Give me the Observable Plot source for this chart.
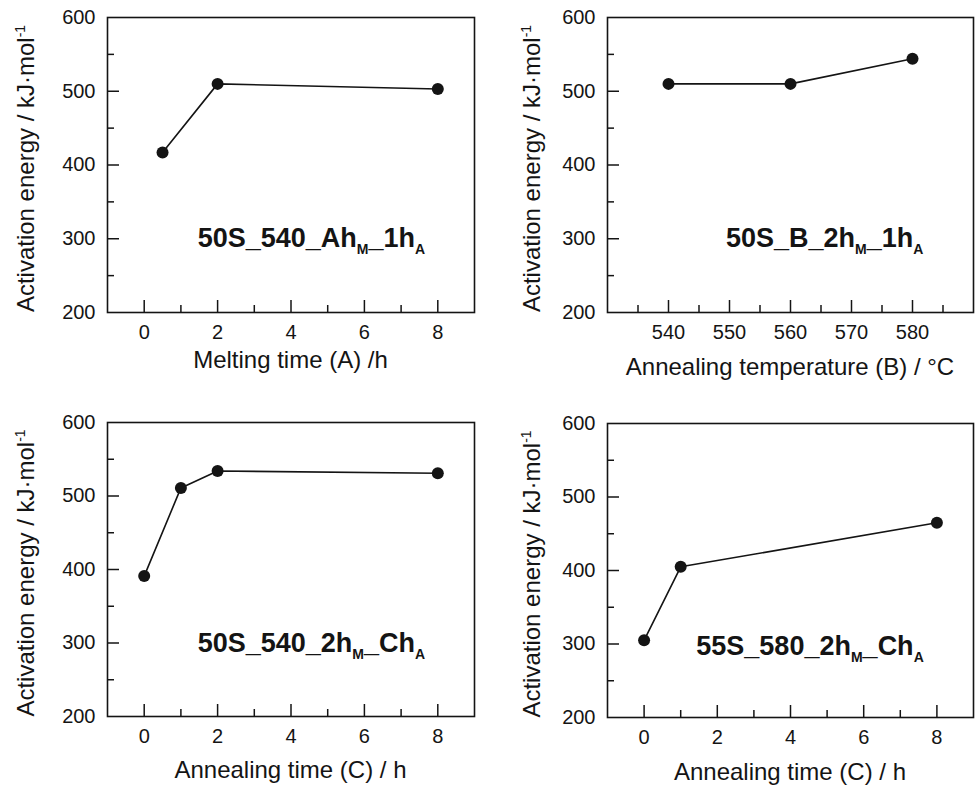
<!DOCTYPE html>
<html><head><meta charset="utf-8">
<script src="https://cdn.jsdelivr.net/npm/d3@7"></script>
<script src="https://cdn.jsdelivr.net/npm/@observablehq/plot@0.6"></script>
<style>
body{margin:0;background:#fff;}
#root{position:relative;width:976px;height:785px;overflow:hidden;background:#fff;}
#root svg{position:absolute;}
</style></head><body><div id="root"></div>
<script>
// ---- data ----
const meltTime = [0.5, 2, 8];
const meltEnergy = [417, 510, 503];
const annealTemp = [540, 560, 580];
const annealTempEnergy = [510, 510, 544];
const annealTime50 = [0, 1, 2, 8];
const annealTime50Energy = [391, 511, 534, 531];
const annealTime55 = [0, 1, 8];
const annealTime55Energy = [305, 405, 465];

// ---- ticks ----
const yDomain = [200, 600];
const yTickLabels = [200, 300, 400, 500, 600];
const yMajorTicks = [300, 400, 500];
const yMinorTicks = [250, 350, 450, 550];
const timeDomain = [-1, 9];
const timeTickLabels = [0, 2, 4, 6, 8];
const timeMinorTicks = [1, 3, 5, 7];
const tempDomain = [530, 590];
const tempTickLabels = [540, 550, 560, 570, 580];
const tempMinorTicks = [535, 545, 555, 565, 575, 585];

// ---- text ----
const yTitle = ["Activation energy / kJ·mol", "-1"];
const xTitles = ["Melting time (A) /h", "Annealing temperature (B) / °C", "Annealing time (C) / h", "Annealing time (C) / h"];
const sampleLabels = [
  ["50S_540_Ah", "M", "_1h", "A"],
  ["50S_B_2h", "M", "_1h", "A"],
  ["50S_540_2h", "M", "_Ch", "A"],
  ["55S_580_2h", "M", "_Ch", "A"]
];

const FONT = "Liberation Sans";
const INK = "#141414";
const MAJOR = 12, MINOR = 7;
const root = document.getElementById("root");

function panel(o) {
  const pts = o.xs.map((x, i) => ({x, y: o.ys[i]}));
  const [mt, mr, mb, ml] = o.margin;
  const fh = o.height - mt - mb, fw = o.width - ml - mr;
  // tick lengths expressed in each scale's units
  const yPerPx = (yDomain[1] - yDomain[0]) / fh;
  const xPerPx = (o.xDomain[1] - o.xDomain[0]) / fw;
  const y0 = yDomain[0], x0 = o.xDomain[0];
  const tickStyle = {stroke: INK, strokeWidth: 1.5};
  const svg = Plot.plot({
    width: o.width, height: o.height,
    marginTop: mt, marginRight: mr, marginBottom: mb, marginLeft: ml,
    x: {domain: o.xDomain},
    y: {domain: yDomain},
    style: {fontFamily: FONT, fontSize: "20px", color: INK, background: "white", overflow: "visible"},
    marks: [
      Plot.frame({stroke: INK, fill: "none", strokeWidth: 1.6}),
      Plot.axisX({ticks: o.xLabels.slice(), tickSize: 0, tickPadding: 12, label: null, tickFormat: d => String(d)}),
      Plot.axisY({ticks: yTickLabels.slice(), tickSize: 0, tickPadding: 12, label: null, tickFormat: d => String(d)}),
      Plot.line(pts, {x: "x", y: "y", stroke: INK, fill: "none", strokeWidth: 1.6}),
      Plot.dot(pts, {x: "x", y: "y", r: 6, fill: INK}),
      // inward tick marks
      Plot.ruleX(o.xLabels.slice(), {x: d => d, y1: y0, y2: y0 + MAJOR * yPerPx, ...tickStyle}),
      Plot.ruleX(o.xMinor.slice(), {x: d => d, y1: y0, y2: y0 + MINOR * yPerPx, ...tickStyle}),
      Plot.ruleY(yMajorTicks.slice(), {y: d => d, x1: x0, x2: x0 + MAJOR * xPerPx, ...tickStyle}),
      Plot.ruleY(yMinorTicks.slice(), {y: d => d, x1: x0, x2: x0 + MINOR * xPerPx, ...tickStyle})
    ]
  });
  svg.style.left = o.left + "px";
  svg.style.top = o.top + "px";
  root.appendChild(svg);
  const sx = svg.scale("x"), sy = svg.scale("y");
  const g = d3.select(svg);
  // y title with superscript
  const cy = (mt + o.height - mb) / 2 + 4;
  const yt = g.append("text")
    .attr("transform", `translate(${ml - o.yTitleDx},${cy}) rotate(-90)`)
    .attr("text-anchor", "middle").attr("font-size", 24).attr("fill", INK);
  yt.append("tspan").text(yTitle[0]);
  yt.append("tspan").attr("font-size", 14).attr("dy", -9).text(yTitle[1]);
  // x title
  g.append("text")
    .attr("x", (ml + o.width - mr) / 2)
    .attr("y", o.height - mb + o.xTitleDy)
    .attr("text-anchor", "middle").attr("font-size", 24).attr("fill", INK)
    .text(o.xTitle);
  // sample label with subscripts
  const t = g.append("text")
    .attr("x", sx.apply(o.labelAt[0])).attr("y", sy.apply(o.labelAt[1]))
    .attr("text-anchor", "start")
    .attr("font-weight", "bold").attr("font-size", 27).attr("fill", INK);
  o.label.forEach((s, i) => {
    const sub = i % 2 === 1;
    t.append("tspan").attr("font-size", sub ? 14 : 27)
      .attr("dy", sub ? 7 : (i > 0 ? -7 : 0)).text(s);
  });
}

panel({left: 0, top: 0, width: 488, height: 390, margin: [17, 14, 78, 107],
  xDomain: timeDomain, xLabels: timeTickLabels, xMinor: timeMinorTicks,
  xs: meltTime, ys: meltEnergy, xTitle: xTitles[0], xTitleDy: 56, yTitleDx: 73,
  label: sampleLabels[0], labelAt: [1.47, 288]});
panel({left: 488, top: 0, width: 488, height: 390, margin: [17, 3, 78, 119],
  xDomain: tempDomain, xLabels: tempTickLabels, xMinor: tempMinorTicks,
  xs: annealTemp, ys: annealTempEnergy, xTitle: xTitles[1], xTitleDy: 63, yTitleDx: 67,
  label: sampleLabels[1], labelAt: [549.5, 288]});
panel({left: 0, top: 390, width: 488, height: 395, margin: [32, 14, 69, 107],
  xDomain: timeDomain, xLabels: timeTickLabels, xMinor: timeMinorTicks,
  xs: annealTime50, ys: annealTime50Energy, xTitle: xTitles[2], xTitleDy: 62, yTitleDx: 73,
  label: sampleLabels[2], labelAt: [1.47, 287.6]});
panel({left: 488, top: 390, width: 488, height: 395, margin: [33, 3, 68, 119],
  xDomain: timeDomain, xLabels: timeTickLabels, xMinor: timeMinorTicks,
  xs: annealTime55, ys: annealTime55Energy, xTitle: xTitles[3], xTitleDy: 63, yTitleDx: 67,
  label: sampleLabels[3], labelAt: [1.44, 285]});
</script>
</body></html>
